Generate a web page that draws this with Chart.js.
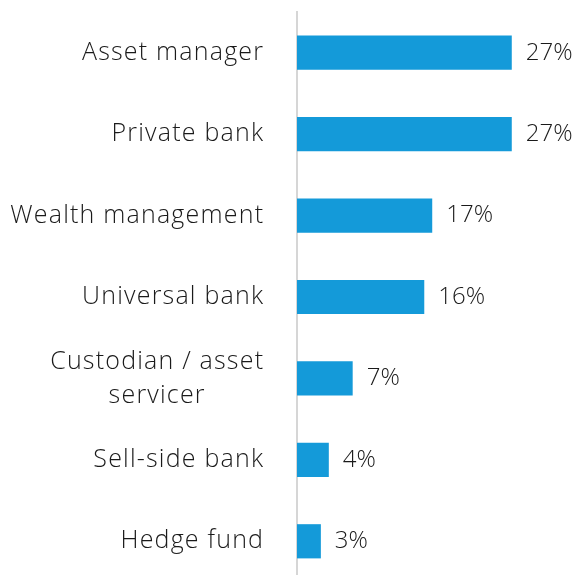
<!DOCTYPE html>
<html>
<head>
<meta charset="utf-8">
<script src="https://cdn.jsdelivr.net/npm/chart.js@4/dist/chart.umd.min.js"></script>
<style>
  html, body { margin: 0; padding: 0; background: #fff; overflow: hidden; }
  #wrap { width: 577px; height: 582px; position: relative; }
</style>
</head>
<body>
<div id="wrap"><canvas id="chart"></canvas></div>
<script>
const categories = [
  ["Asset manager"],
  ["Private bank"],
  ["Wealth management"],
  ["Universal bank"],
  ["Custodian / asset", "servicer"],
  ["Sell-side bank"],
  ["Hedge fund"]
];
const shares = [27, 27, 17, 16, 7, 4, 3];

const LABEL_FONT = "300 25px 'Open Sans', 'Noto Sans', sans-serif";
const VALUE_FONT = "300 24px 'Open Sans', 'Noto Sans', sans-serif";
const SPACING = 1.2;

// category names, right-aligned block, multi-line ones centred on each other
const categoryLabels = {
  id: "categoryLabels",
  afterDraw(chart) {
    const { ctx, scales } = chart;
    const right = scales.x.left - 34 + SPACING;
    ctx.save();
    ctx.font = LABEL_FONT;
    ctx.letterSpacing = SPACING + "px";
    ctx.fillStyle = "#1a1a1a";
    ctx.textBaseline = "middle";
    categories.forEach((lines, i) => {
      const y = scales.y.getPixelForValue(i);
      const widest = Math.max(...lines.map(l => ctx.measureText(l).width));
      const cx = right - widest / 2;
      const lh = 34;
      lines.forEach((line, j) => {
        ctx.textAlign = lines.length > 1 ? "center" : "right";
        const x = lines.length > 1 ? cx : right;
        ctx.fillText(line, x, y + (j - (lines.length - 1) / 2) * lh);
      });
    });
    ctx.restore();
  }
};

// percentage at the end of each bar
const valueLabels = {
  id: "valueLabels",
  afterDatasetsDraw(chart) {
    const { ctx } = chart;
    const meta = chart.getDatasetMeta(0);
    ctx.save();
    ctx.font = VALUE_FONT;
    ctx.fillStyle = "#1a1a1a";
    ctx.textAlign = "left";
    ctx.textBaseline = "middle";
    meta.data.forEach((bar, i) => {
      ctx.fillText(shares[i] + "%", bar.x + 14, bar.y);
    });
    ctx.restore();
  }
};

new Chart(document.getElementById("chart"), {
  type: "bar",
  data: {
    labels: categories.map(c => c.join(" ")),
    datasets: [{
      data: shares,
      backgroundColor: "#149ad9",
      borderWidth: 0,
      categoryPercentage: 1,
      barPercentage: 0.42
    }]
  },
  options: {
    indexAxis: "y",
    responsive: true,
    maintainAspectRatio: false,
    animation: false,
    layout: { padding: { left: 297, top: 12, right: 0, bottom: 0 } },
    plugins: { legend: { display: false }, tooltip: { enabled: false } },
    scales: {
      x: {
        min: 0,
        max: 35.2,
        display: false
      },
      y: {
        grid: { display: false, drawTicks: false },
        ticks: { display: false },
        border: { display: true, color: "#d6d6d6", width: 2 }
      }
    }
  },
  plugins: [categoryLabels, valueLabels]
});
</script>
</body>
</html>
